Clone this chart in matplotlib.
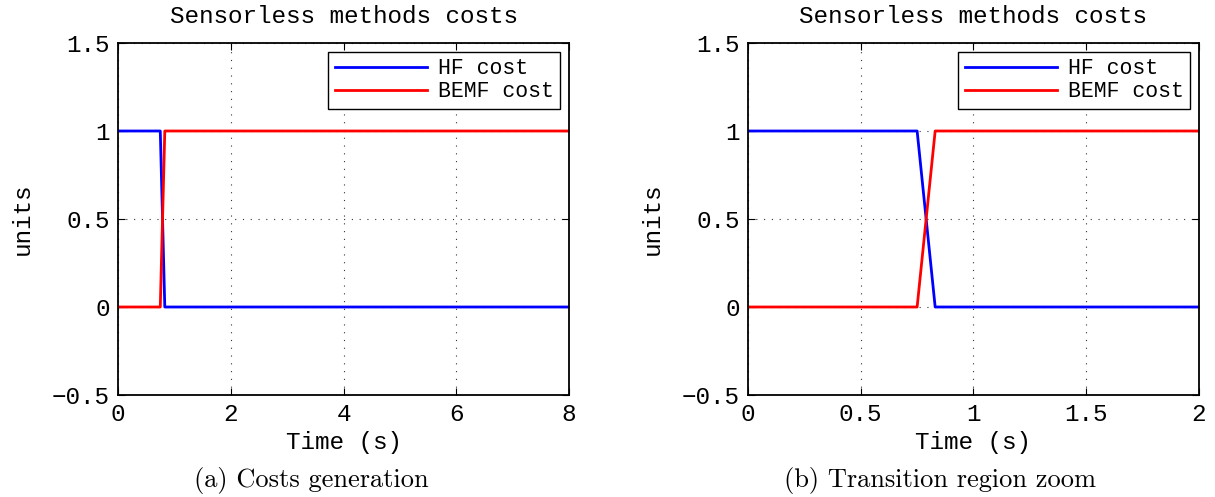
import numpy as np
import matplotlib.pyplot as plt

# cost signals (piecewise linear, sampled at the switching instants)
t = [0, 0.75, 0.83, 8]
hf_cost = [1, 1, 0, 0]
bemf_cost = [0, 0, 1, 1]

titles = ['Sensorless methods costs', 'Sensorless methods costs']
captions = ['(a) Costs generation', '(b) Transition region zoom']
xlims = [(0, 8), (0, 2)]
xticks = [[0, 2, 4, 6, 8], [0, 0.5, 1, 1.5, 2]]
yticks = [-0.5, 0, 0.5, 1, 1.5]

mono = 'Liberation Mono'
fs = 17.5

fig = plt.figure(figsize=(12.15, 4.97), dpi=100)
W, H = 1215, 497
lefts = [118, 748]
caption_x = [311, 940]

for i in range(2):
    ax = fig.add_axes([lefts[i] / W, (H - 395) / H, 451 / W, 352 / H])
    ax.plot(t, hf_cost, color='#0000ff', lw=2, label='HF cost')
    ax.plot(t, bemf_cost, color='#ff0000', lw=2, label='BEMF cost')
    ax.set_xlim(*xlims[i])
    ax.set_ylim(-0.5, 1.5)
    ax.set_xticks(xticks[i])
    ax.set_yticks(yticks)
    ax.set_xticklabels([('%g' % v) for v in xticks[i]], family=mono, fontsize=fs)
    ax.set_yticklabels([('%g' % v).replace('-', '\u2212') for v in yticks], family=mono, fontsize=fs)
    ax.tick_params(direction='in', top=True, right=True, length=5, width=0.8, pad=6)
    ax.grid(True, color='#333333', linestyle=(0, (1, 6)), lw=0.8)
    for s in ax.spines.values():
        s.set_linewidth(1.3)
    ax.set_title(titles[i], family=mono, fontsize=fs, y=1.074, va='center', pad=0)
    ax.set_xlabel('Time (s)', family=mono, fontsize=fs, va='center')
    ax.xaxis.set_label_coords(0.5, -0.134)
    ax.set_ylabel('units', family=mono, fontsize=fs, va='center')
    ax.yaxis.set_label_coords(-0.213, 0.5)
    leg = ax.legend(loc='upper right', prop={'family': mono, 'size': 15.5},
                    fancybox=False, framealpha=1, edgecolor='black',
                    borderaxespad=0.4, handlelength=4.3, handletextpad=0.5,
                    borderpad=0.3, labelspacing=0.1)
    leg.get_frame().set_linewidth(1.0)
    fig.text(caption_x[i] / W, 1 - 481 / H, captions[i], family='cmr10',
             fontsize=19, ha='center', va='center')

fig.savefig('out.png', dpi=100)
